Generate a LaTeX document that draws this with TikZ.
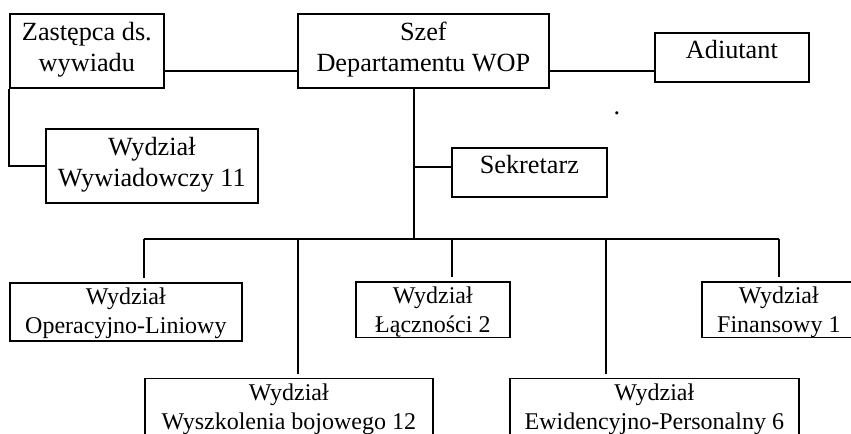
\documentclass[tikz,border=0pt]{standalone}
\usepackage{fontspec}
\setmainfont{Liberation Serif}
\usetikzlibrary{calc}

\begin{document}
\begin{tikzpicture}[x=0.75pt, y=-0.75pt, line width=1.3pt,
        unit/.style={rectangle, draw, inner xsep=0pt, inner ysep=0pt, align=center, anchor=north west, text height=43.1pt, text depth=12.4pt, font=\fontsize{19.7pt}{23.25pt}\selectfont},
        post/.style={unit, text height=19.5pt, text depth=17.25pt},
        dept/.style={unit, text height=38.25pt, text depth=5.25pt, font=\fontsize{18pt}{21.75pt}\selectfont}
    ]
        \useasboundingbox (0,0) rectangle (851,433);
        \clip (0,0) rectangle (851,433);

        \node[unit, minimum width=115.5pt] (zast) at (9,13) {Zastępca ds.\\wywiadu};
        \node[unit, minimum width=188.25pt] (szef) at (297,13) {Szef\\Departamentu WOP};
        \node[post, minimum width=115.5pt] (adiu) at (654,32) {Adiutant};
        \node[unit, minimum width=159pt] (wyw) at (45,128) {Wydział\\Wywiadowczy 11};
        \node[post, minimum width=116.25pt] (sekr) at (451,147) {Sekretarz};
        \node[font=\fontsize{19.7pt}{23.25pt}\selectfont, inner sep=0pt] (dot) at (617,113) {.};

        \node[dept, minimum width=174pt] (oper) at (9,282) {Wydział\\Operacyjno-Liniowy};
        \node[dept, minimum width=115.5pt, text depth=3.4pt] (lacz) at (355,281) {Wydział\\Łączności 2};
        \node[dept, minimum width=115.5pt, text depth=3.4pt] (fin) at (701,281) {Wydział\\Finansowy 1};
        \node[dept, minimum width=216pt, text depth=21.75pt] (wysz) at (144,377.5) {Wydział\\Wyszkolenia bojowego 12};
        \node[dept, minimum width=216.75pt, text depth=21.75pt] (ewid) at (509,377.5) {Wydział\\Ewidencyjno-Personalny 6};

        \coordinate (zastR) at ($(zast.east)+(0,20)$);
        \coordinate (szefR) at ($(szef.east)+(0,20)$);
        \draw (zastR) -- (zastR -| szef.west);
        \draw (szefR) -- (szefR -| adiu.west);
        \draw (zast.south west) |- (wyw.west);

        \coordinate (trunk) at ($(szef.south)+(-9.5,0)$);
        \coordinate (bus) at (trunk |- 0,239);
        \coordinate (sekrL) at ($(sekr.west)+(0,-5.5)$);
        \draw (trunk) -- (bus);
        \draw (trunk |- sekrL) -- (sekrL);

        \foreach \n/\x in {oper/144, wysz/298, lacz/452, ewid/606, fin/779} {
            \coordinate (d\n) at (\x,239);
            \draw[shorten >=3pt] (d\n) -- (d\n |- \n.north);
        }
        \draw (doper) -- (dfin);
    \end{tikzpicture}
\end{document}
